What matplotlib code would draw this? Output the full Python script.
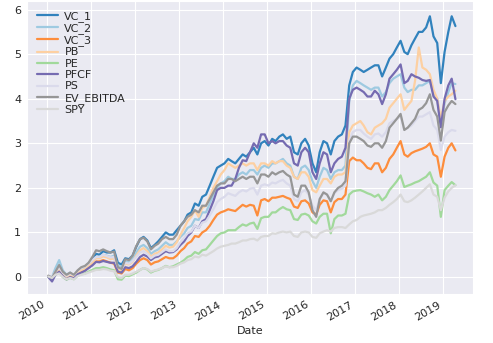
import matplotlib
matplotlib.use("Agg")

import matplotlib.pyplot as plt
import matplotlib.dates as mdates
import pandas as pd
import seaborn as sns

# ---------------------------------------------------------------------------
# Data: cumulative returns, one value per month (mid-month), 2010-01 .. 2019-04
# ---------------------------------------------------------------------------
dates = pd.date_range("2010-01-01", periods=112, freq="MS") + pd.Timedelta(days=14)

vc_1 = [
    0.02, -0.03, 0.10, 0.20, 0.08, 0.00, 0.05, 0.00, 0.10, 0.18, 0.22, 0.30,
    0.40, 0.52, 0.50, 0.58, 0.55, 0.55, 0.60, 0.32, 0.28, 0.42, 0.40, 0.48,
    0.68, 0.85, 0.90, 0.82, 0.65, 0.72, 0.80, 0.90, 1.00, 0.95, 0.95, 1.05,
    1.15, 1.25, 1.40, 1.45, 1.65, 1.60, 1.80, 1.85, 2.05, 2.25, 2.45, 2.50,
    2.55, 2.65, 2.60, 2.55, 2.65, 2.75, 2.70, 2.80, 2.90, 2.75, 3.00, 3.05,
    2.95, 3.10, 3.05, 3.15, 3.20, 3.10, 3.15, 2.80, 2.75, 3.00, 3.10, 2.95,
    2.55, 2.35, 2.80, 3.05, 3.00, 2.75, 3.05, 3.15, 3.20, 3.40, 4.30, 4.60,
    4.70, 4.65, 4.60, 4.65, 4.70, 4.75, 4.75, 4.50, 4.70, 4.90, 5.00, 5.15,
    5.30, 5.05, 5.00, 5.20, 5.35, 5.50, 5.50, 5.60, 5.85, 5.40, 5.25, 4.35,
    5.05, 5.50, 5.85, 5.63,
]
vc_2 = [
    0.02, 0.00, 0.20, 0.38, 0.15, 0.05, 0.10, 0.02, 0.12, 0.18, 0.20, 0.25,
    0.35, 0.45, 0.45, 0.50, 0.48, 0.45, 0.48, 0.25, 0.22, 0.35, 0.33, 0.40,
    0.55, 0.68, 0.72, 0.65, 0.52, 0.58, 0.62, 0.70, 0.78, 0.72, 0.72, 0.80,
    0.90, 0.98, 1.10, 1.15, 1.30, 1.28, 1.45, 1.45, 1.65, 1.85, 2.00, 2.10,
    2.15, 2.25, 2.20, 2.20, 2.30, 2.35, 2.30, 2.40, 2.40, 2.30, 2.45, 2.50,
    2.45, 2.55, 2.55, 2.60, 2.65, 2.55, 2.50, 2.25, 2.20, 2.45, 2.50, 2.40,
    2.15, 2.00, 2.25, 2.45, 2.40, 2.20, 2.35, 2.40, 2.40, 2.50, 3.95, 4.30,
    4.40, 4.35, 4.30, 4.25, 4.20, 4.25, 4.25, 4.05, 4.15, 4.35, 4.45, 4.50,
    4.55, 4.25, 4.15, 4.20, 4.20, 4.30, 4.30, 4.35, 4.40, 4.10, 4.00, 3.40,
    3.90, 4.15, 4.35, 4.33,
]
vc_3 = [
    0.02, -0.03, 0.08, 0.15, 0.05, -0.02, 0.03, 0.00, 0.08, 0.12, 0.15, 0.22,
    0.28, 0.35, 0.35, 0.38, 0.35, 0.32, 0.30, 0.10, 0.08, 0.18, 0.15, 0.20,
    0.30, 0.38, 0.42, 0.38, 0.28, 0.33, 0.35, 0.40, 0.45, 0.42, 0.42, 0.48,
    0.58, 0.65, 0.75, 0.80, 0.92, 0.90, 1.00, 1.05, 1.15, 1.28, 1.40, 1.45,
    1.48, 1.52, 1.50, 1.48, 1.55, 1.62, 1.58, 1.62, 1.60, 1.38, 1.72, 1.75,
    1.70, 1.78, 1.78, 1.80, 1.82, 1.78, 1.75, 1.58, 1.55, 1.70, 1.72, 1.65,
    1.45, 1.40, 1.62, 1.72, 1.70, 1.45, 1.68, 1.75, 1.75, 1.85, 2.60, 2.68,
    2.62, 2.62, 2.55, 2.45, 2.42, 2.55, 2.55, 2.35, 2.45, 2.65, 2.75, 2.90,
    3.05, 2.75, 2.70, 2.78, 2.82, 2.85, 2.88, 2.92, 3.00, 2.75, 2.70, 2.25,
    2.70, 2.90, 3.00, 2.84,
]
pb = [
    0.02, -0.02, 0.10, 0.18, 0.06, 0.00, 0.05, 0.00, 0.10, 0.15, 0.18, 0.25,
    0.32, 0.42, 0.42, 0.46, 0.44, 0.40, 0.42, 0.18, 0.15, 0.30, 0.28, 0.34,
    0.48, 0.60, 0.65, 0.58, 0.45, 0.52, 0.55, 0.62, 0.70, 0.66, 0.68, 0.78,
    0.95, 1.10, 1.25, 1.35, 1.50, 1.35, 1.55, 1.60, 1.80, 2.00, 2.15, 2.30,
    2.40, 2.55, 2.50, 2.45, 2.50, 2.55, 2.50, 2.55, 2.55, 2.40, 2.55, 2.55,
    2.50, 2.60, 2.55, 2.60, 2.60, 2.50, 2.45, 2.25, 2.20, 2.35, 2.35, 2.25,
    1.95, 1.90, 2.05, 2.20, 2.20, 2.10, 2.25, 2.30, 2.30, 2.35, 3.25, 3.40,
    3.45, 3.50, 3.40, 3.25, 3.20, 3.35, 3.40, 3.45, 3.55, 3.80, 3.90, 4.00,
    4.10, 3.75, 3.85, 3.95, 4.40, 5.15, 4.70, 4.65, 4.55, 4.20, 4.00, 3.55,
    3.95, 4.05, 4.10, 4.18,
]
pe = [
    0.00, -0.05, 0.05, 0.10, 0.00, -0.06, -0.02, -0.05, 0.03, 0.06, 0.08, 0.12,
    0.16, 0.20, 0.20, 0.22, 0.20, 0.17, 0.15, -0.05, -0.06, 0.03, 0.02, 0.06,
    0.10, 0.16, 0.20, 0.17, 0.10, 0.14, 0.16, 0.20, 0.25, 0.22, 0.24, 0.28,
    0.32, 0.38, 0.45, 0.48, 0.56, 0.52, 0.60, 0.62, 0.72, 0.82, 0.92, 0.98,
    1.00, 1.05, 1.05, 1.05, 1.12, 1.18, 1.15, 1.20, 1.22, 1.08, 1.32, 1.35,
    1.35, 1.45, 1.45, 1.52, 1.57, 1.52, 1.50, 1.30, 1.28, 1.40, 1.42, 1.38,
    1.25, 1.20, 1.35, 1.42, 1.42, 0.98, 1.30, 1.38, 1.38, 1.42, 1.85, 1.92,
    1.94, 1.95, 1.92, 1.88, 1.85, 1.80, 1.85, 1.72, 1.80, 1.95, 2.05, 2.15,
    2.28, 2.02, 2.05, 2.08, 2.12, 2.15, 2.20, 2.25, 2.35, 2.12, 2.05, 1.35,
    1.95, 2.05, 2.13, 2.06,
]
pfcf = [
    0.00, -0.10, 0.05, 0.12, 0.02, -0.05, 0.00, -0.03, 0.06, 0.10, 0.14, 0.20,
    0.26, 0.34, 0.33, 0.36, 0.34, 0.32, 0.32, 0.12, 0.10, 0.22, 0.20, 0.24,
    0.34, 0.45, 0.50, 0.46, 0.38, 0.44, 0.46, 0.52, 0.58, 0.55, 0.56, 0.62,
    0.72, 0.80, 0.92, 1.00, 1.15, 1.10, 1.25, 1.30, 1.50, 1.70, 1.95, 2.00,
    2.00, 2.05, 2.05, 2.20, 2.45, 2.62, 2.60, 2.80, 3.00, 2.90, 3.20, 3.20,
    3.00, 3.05, 3.00, 3.05, 3.05, 2.95, 2.90, 2.55, 2.50, 2.80, 2.90, 2.80,
    2.35, 2.20, 2.55, 2.80, 2.75, 2.35, 2.55, 2.65, 2.70, 2.90, 4.00, 4.20,
    4.25, 4.20, 4.15, 4.05, 4.05, 4.18, 4.10, 3.88, 4.10, 4.45, 4.55, 4.65,
    4.77, 4.35, 4.40, 4.55, 4.50, 4.47, 4.42, 4.40, 4.42, 4.05, 3.95, 3.36,
    4.00, 4.30, 4.45, 3.99,
]
ps = [
    0.03, 0.00, 0.12, 0.22, 0.10, 0.03, 0.08, 0.04, 0.14, 0.20, 0.24, 0.30,
    0.38, 0.45, 0.45, 0.50, 0.47, 0.44, 0.45, 0.22, 0.18, 0.32, 0.30, 0.36,
    0.45, 0.55, 0.58, 0.52, 0.42, 0.48, 0.50, 0.56, 0.62, 0.58, 0.58, 0.65,
    0.78, 0.88, 0.98, 1.02, 1.15, 1.10, 1.22, 1.25, 1.38, 1.52, 1.68, 1.75,
    1.80, 1.88, 1.85, 1.82, 1.90, 1.95, 1.92, 1.98, 2.00, 1.85, 2.05, 2.08,
    2.05, 2.12, 2.10, 2.15, 2.18, 2.10, 2.05, 1.75, 1.70, 1.90, 1.95, 1.85,
    1.60, 1.50, 1.75, 1.88, 1.85, 1.70, 1.88, 1.95, 1.98, 2.05, 3.05, 3.25,
    3.30, 3.30, 3.22, 3.15, 3.10, 3.20, 3.22, 3.15, 3.25, 3.45, 3.50, 3.55,
    3.60, 3.30, 3.35, 3.40, 3.50, 3.60, 3.60, 3.65, 3.70, 3.40, 3.30, 2.85,
    3.15, 3.25, 3.30, 3.28,
]
ev_ebitda = [
    0.03, -0.02, 0.12, 0.27, 0.12, 0.05, 0.10, 0.05, 0.15, 0.22, 0.25, 0.32,
    0.45, 0.60, 0.58, 0.62, 0.58, 0.55, 0.57, 0.22, 0.18, 0.40, 0.38, 0.48,
    0.70, 0.85, 0.88, 0.80, 0.62, 0.70, 0.75, 0.85, 0.90, 0.85, 0.85, 0.95,
    1.15, 1.25, 1.35, 1.40, 1.50, 1.45, 1.60, 1.60, 1.75, 1.90, 2.05, 2.10,
    2.10, 2.20, 2.20, 2.15, 2.20, 2.25, 2.20, 2.25, 2.25, 2.10, 2.30, 2.30,
    2.25, 2.35, 2.30, 2.35, 2.38, 2.30, 2.25, 1.85, 1.80, 2.05, 2.05, 1.90,
    1.50, 1.35, 1.75, 1.90, 1.85, 1.70, 1.90, 2.00, 2.05, 2.15, 3.00, 3.15,
    3.15, 3.10, 3.05, 2.95, 2.92, 3.00, 3.00, 2.90, 3.05, 3.35, 3.45, 3.55,
    3.66, 3.30, 3.35, 3.45, 3.55, 3.75, 3.80, 3.90, 4.10, 3.75, 3.60, 3.06,
    3.70, 3.85, 3.95, 3.88,
]
spy = [
    0.01, -0.02, 0.05, 0.08, 0.00, -0.05, -0.02, -0.05, 0.02, 0.05, 0.07, 0.10,
    0.13, 0.16, 0.16, 0.18, 0.17, 0.14, 0.13, 0.00, -0.02, 0.05, 0.05, 0.08,
    0.12, 0.16, 0.20, 0.18, 0.12, 0.15, 0.17, 0.20, 0.24, 0.22, 0.22, 0.25,
    0.30, 0.33, 0.38, 0.40, 0.46, 0.44, 0.50, 0.48, 0.53, 0.58, 0.64, 0.68,
    0.70, 0.72, 0.75, 0.75, 0.78, 0.82, 0.82, 0.85, 0.86, 0.82, 0.90, 0.92,
    0.92, 0.98, 0.97, 1.00, 1.02, 1.00, 1.02, 0.92, 0.90, 1.00, 1.02, 1.00,
    0.90, 0.88, 0.98, 1.02, 1.05, 1.02, 1.10, 1.12, 1.12, 1.10, 1.18, 1.25,
    1.28, 1.35, 1.38, 1.40, 1.42, 1.45, 1.50, 1.50, 1.55, 1.62, 1.68, 1.75,
    1.85, 1.70, 1.68, 1.72, 1.78, 1.85, 1.92, 2.00, 2.08, 1.85, 1.80, 1.50,
    1.78, 1.92, 2.00, 2.06,
]

names = ["VC_1", "VC_2", "VC_3", "PB", "PE", "PFCF", "PS", "EV_EBITDA", "SPY"]
series = [vc_1, vc_2, vc_3, pb, pe, pfcf, ps, ev_ebitda, spy]
colors = ["#3182bd", "#9ecae1", "#fd8d3c", "#fdd0a2", "#a1d99b",
          "#756bb1", "#dadaeb", "#969696", "#d9d9d9"]

df = pd.DataFrame(dict(zip(names, series)), index=dates)
df.index.name = "Date"

# ---------------------------------------------------------------------------
# Style / canvas
# ---------------------------------------------------------------------------
sns.set_style("darkgrid")
plt.rcParams["font.family"] = ["DejaVu Sans"]

fig = plt.figure(figsize=(4.93, 3.43), dpi=100)
ax = fig.add_axes([0.054, 0.143, 0.905, 0.855])

for name, clr in zip(names, colors):
    ax.plot(df.index, df[name], color=clr, lw=1.6, label=name)

ax.set_xlim(pd.Timestamp("2009-07-19"), pd.Timestamp("2019-09-06"))
ax.set_ylim(-0.38, 6.2)
ax.set_yticks(range(0, 7))

ax.xaxis.set_major_locator(mdates.YearLocator())
ax.xaxis.set_major_formatter(mdates.DateFormatter("%Y"))
ax.tick_params(axis="both", labelsize=8, colors="#262626", length=0, pad=4)
for lbl in ax.get_xticklabels():
    lbl.set_rotation(30)
    lbl.set_ha("right")

ax.set_xlabel("Date", fontsize=8, color="#262626", labelpad=3)

ax.legend(loc="upper left", frameon=False, fontsize=8, labelspacing=0.12,
          handlelength=1.9, handletextpad=0.6)

fig.savefig("out.png", dpi=100)
plt.close(fig)
